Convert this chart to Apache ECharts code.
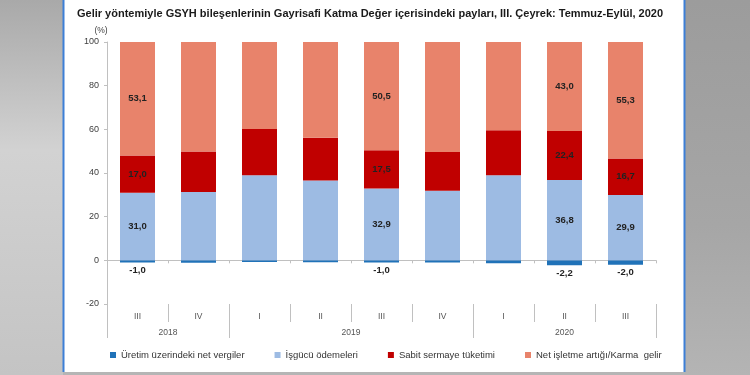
<!DOCTYPE html>
<html>
<head>
<meta charset="utf-8">
<script src="https://cdn.jsdelivr.net/npm/echarts@6/dist/echarts.min.js"></script>
<style>
  html, body { margin: 0; padding: 0; }
  #chart { width: 750px; height: 375px; }
</style>
</head>
<body>
<div id="chart"></div>
<script>
// quarters (first level) and years (second level)
const quarters = ["III", "IV", "I", "II", "III", "IV", "I", "II", "III"];
const years = ["2018", "2019", "2020"];
const quartersPerYear = [2, 4, 3];

// shares, %
const uretim = [-1.0, -1.1, -0.8, -0.9, -1.0, -1.0, -1.3, -2.2, -2.0];
const isgucu = [31.0, 31.3, 39.0, 36.6, 32.9, 31.9, 39.0, 36.8, 29.9];
const sabit = [17.0, 18.5, 21.2, 19.5, 17.5, 17.7, 20.6, 22.4, 16.7];
const netIsletme = [53.1, 51.3, 40.6, 44.8, 50.5, 51.4, 41.7, 43.0, 55.3];

// bars that carry value labels
const labelled = [0, 4, 7, 8];

const seriesNames = [
    "Üretim üzerindeki net vergiler",
    "İşgücü ödemeleri",
    "Sabit sermaye tüketimi",
    "Net işletme artığı/Karma  gelir"
];
const colors = ["#2072b8", "#9dbbe3", "#c00000", "#e8836b"];

// year separators / year label centres
const yearBounds = [0];
quartersPerYear.forEach(n => yearBounds.push(yearBounds[yearBounds.length - 1] + n));
const yearCenters = years.map((y, i) => (yearBounds[i] + yearBounds[i + 1]) / 2);

const fmt = v => v.toFixed(1).replace(".", ",");
const font = "'Liberation Sans', Arial, sans-serif";

function makeSeries(name, values, color, negative) {
    return {
        name: name,
        type: "bar",
        stack: "total",
        barWidth: 35,
        itemStyle: { color: color },
        data: values.map((v, i) => ({
            value: v,
            label: { show: labelled.includes(i) }
        })),
        label: {
            position: negative ? "outside" : "inside",
            distance: 3,
            fontSize: 9.5,
            fontWeight: "bold",
            fontFamily: font,
            color: "#222",
            formatter: p => fmt(p.value)
        }
    };
}

const chart = echarts.init(document.getElementById("chart"));

chart.setOption({
    backgroundColor: "#b5b5b5",
    animation: false,

    graphic: [
        {
            type: "rect", z: -10, silent: true,
            shape: { x: 0, y: 0, width: 63, height: 375 },
            style: {
                fill: new echarts.graphic.LinearGradient(0, 0, 0, 1, [
                    { offset: 0, color: "#a9a9a9" },
                    { offset: 0.4, color: "#d2d2d2" },
                    { offset: 1, color: "#c4c4c4" }
                ])
            }
        },
        {
            type: "rect", z: -10, silent: true,
            shape: { x: 685, y: 0, width: 65, height: 375 },
            style: {
                fill: new echarts.graphic.LinearGradient(0, 0, 0, 1, [
                    { offset: 0, color: "#9c9c9c" },
                    { offset: 0.6, color: "#a6a6a6" },
                    { offset: 1, color: "#b4b4b4" }
                ])
            }
        },
        {
            type: "rect", z: -9, silent: true,
            shape: { x: 63, y: 0, width: 622, height: 372 },
            style: { fill: "#ffffff" }
        },
        {
            type: "line", z: -8, silent: true,
            shape: { x1: 63.5, y1: 0, x2: 63.5, y2: 372 },
            style: { stroke: "#3d7fd6", lineWidth: 2 }
        },
        {
            type: "line", z: -8, silent: true,
            shape: { x1: 684.5, y1: 0, x2: 684.5, y2: 372 },
            style: { stroke: "#3d7fd6", lineWidth: 2 }
        }
    ],

    title: {
        text: "Gelir yöntemiyle GSYH bileşenlerinin Gayrisafi Katma Değer içerisindeki payları, III. Çeyrek: Temmuz-Eylül, 2020",
        left: 72,
        top: 3,
        textStyle: { fontSize: 11, fontWeight: "bold", color: "#1a1a1a", fontFamily: font }
    },

    legend: {
        left: 105,
        bottom: 10,
        icon: "rect",
        itemWidth: 6,
        itemHeight: 6,
        itemGap: 30,
        textStyle: { fontSize: 9.5, color: "#333", fontFamily: font },
        data: seriesNames
    },

    grid: { left: 107, right: 94, top: 42, bottom: 71 },

    xAxis: [
        {   // axis line at zero
            type: "category",
            data: quarters,
            position: "bottom",
            axisLine: { onZero: true, lineStyle: { color: "#c0c0c0" } },
            axisTick: { show: true, length: 3, lineStyle: { color: "#c0c0c0" } },
            axisLabel: { show: false }
        },
        {   // quarter labels
            type: "category",
            data: quarters,
            position: "bottom",
            axisLine: { show: false, onZero: false },
            axisTick: { show: true, interval: 0, length: 18, lineStyle: { color: "#c0c0c0" } },
            axisLabel: { interval: 0, margin: 8, fontSize: 8.5, color: "#555", fontFamily: font }
        },
        {   // year labels
            type: "value",
            min: 0,
            max: quarters.length,
            position: "bottom",
            axisLine: { show: false, onZero: false },
            splitLine: { show: false },
            axisTick: { show: true, customValues: yearBounds, length: 34, lineStyle: { color: "#c0c0c0" } },
            axisLabel: {
                customValues: yearCenters,
                margin: 24,
                fontSize: 8.5,
                color: "#555",
                fontFamily: font,
                formatter: v => years[yearCenters.indexOf(v)]
            }
        }
    ],

    yAxis: {
        type: "value",
        min: -20,
        max: 100,
        interval: 20,
        name: "(%)",
        nameLocation: "end",
        nameGap: 7,
        nameTextStyle: { fontSize: 8.5, color: "#404040", fontFamily: font, padding: [0, 12, 0, 0] },
        axisLine: { show: true, lineStyle: { color: "#c0c0c0" } },
        axisTick: { show: true, length: 3, lineStyle: { color: "#c0c0c0" } },
        splitLine: { show: false },
        axisLabel: { margin: 8, fontSize: 9, color: "#404040", fontFamily: font }
    },

    series: [
        makeSeries(seriesNames[0], uretim, colors[0], true),
        makeSeries(seriesNames[1], isgucu, colors[1], false),
        makeSeries(seriesNames[2], sabit, colors[2], false),
        makeSeries(seriesNames[3], netIsletme, colors[3], false)
    ]
});
</script>
</body>
</html>
